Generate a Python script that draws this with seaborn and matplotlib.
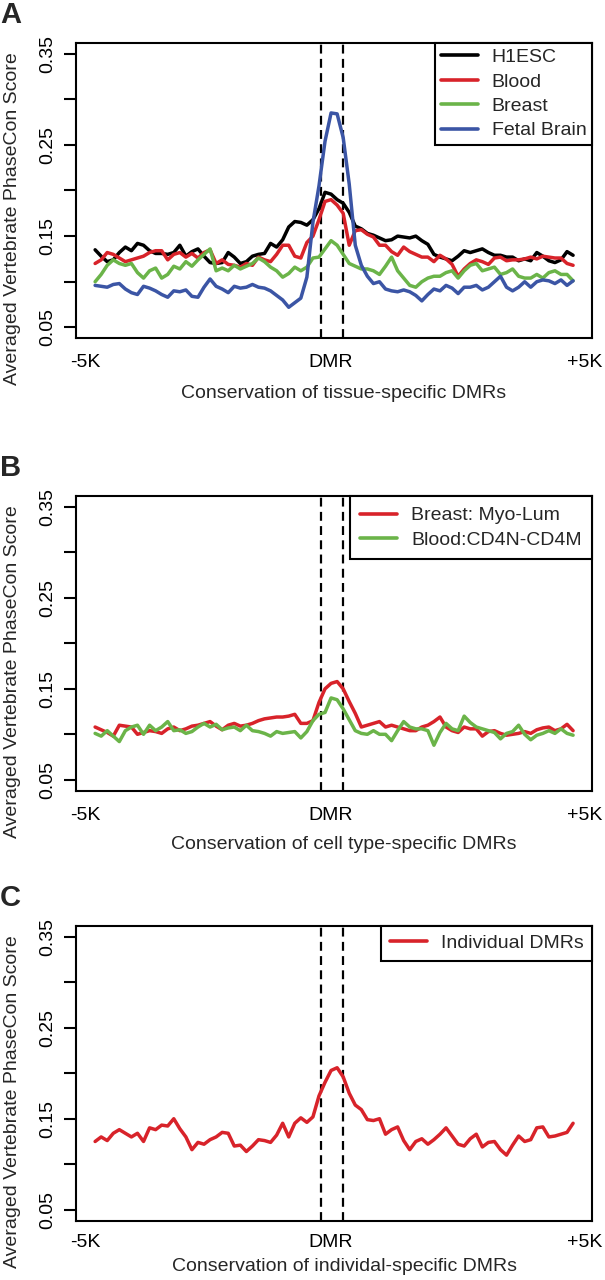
import numpy as np
import pandas as pd
import seaborn as sns
import matplotlib.pyplot as plt
from matplotlib.lines import Line2D

# profile bins from -5K through the DMR to +5K
n_bins = 80
bins = np.arange(n_bins)

# Panel A: tissue-specific DMRs
h1esc = [0.135, 0.128, 0.122, 0.124, 0.132, 0.138, 0.134, 0.142, 0.140, 0.134,
         0.131, 0.131, 0.130, 0.132, 0.140, 0.128, 0.133, 0.136, 0.128, 0.121,
         0.120, 0.121, 0.132, 0.127, 0.120, 0.122, 0.128, 0.130, 0.131, 0.142,
         0.138, 0.146, 0.160, 0.166, 0.165, 0.162, 0.168, 0.180, 0.198, 0.196,
         0.190, 0.186, 0.176, 0.161, 0.158, 0.153, 0.151, 0.148, 0.145, 0.146,
         0.150, 0.149, 0.148, 0.150, 0.145, 0.141, 0.130, 0.127, 0.125, 0.123,
         0.128, 0.134, 0.132, 0.134, 0.136, 0.132, 0.129, 0.129, 0.127, 0.127,
         0.123, 0.125, 0.123, 0.132, 0.128, 0.123, 0.121, 0.124, 0.133, 0.129]
blood = [0.120, 0.124, 0.132, 0.130, 0.126, 0.122, 0.124, 0.126, 0.128, 0.132,
         0.134, 0.134, 0.124, 0.130, 0.132, 0.127, 0.131, 0.126, 0.132, 0.135,
         0.120, 0.124, 0.119, 0.118, 0.116, 0.120, 0.118, 0.127, 0.124, 0.122,
         0.130, 0.140, 0.140, 0.128, 0.126, 0.143, 0.150, 0.168, 0.188, 0.190,
         0.184, 0.175, 0.140, 0.156, 0.157, 0.152, 0.149, 0.140, 0.140, 0.133,
         0.129, 0.138, 0.133, 0.130, 0.127, 0.127, 0.122, 0.129, 0.125, 0.119,
         0.106, 0.114, 0.120, 0.124, 0.122, 0.119, 0.126, 0.127, 0.123, 0.124,
         0.124, 0.125, 0.127, 0.125, 0.128, 0.127, 0.126, 0.126, 0.120, 0.118]
breast = [0.100, 0.108, 0.118, 0.124, 0.120, 0.118, 0.120, 0.110, 0.104, 0.112,
          0.115, 0.104, 0.108, 0.117, 0.114, 0.122, 0.117, 0.124, 0.130, 0.136,
          0.112, 0.115, 0.112, 0.118, 0.114, 0.117, 0.120, 0.126, 0.122, 0.116,
          0.112, 0.105, 0.109, 0.116, 0.112, 0.116, 0.126, 0.127, 0.136, 0.145,
          0.140, 0.130, 0.120, 0.117, 0.114, 0.114, 0.112, 0.108, 0.117, 0.127,
          0.112, 0.104, 0.096, 0.094, 0.100, 0.104, 0.106, 0.106, 0.110, 0.112,
          0.104, 0.112, 0.118, 0.120, 0.112, 0.114, 0.116, 0.108, 0.110, 0.114,
          0.106, 0.104, 0.104, 0.108, 0.104, 0.110, 0.112, 0.108, 0.108, 0.101]
fetal_brain = [0.096, 0.095, 0.094, 0.097, 0.098, 0.092, 0.088, 0.086, 0.095, 0.093,
               0.090, 0.086, 0.083, 0.090, 0.089, 0.091, 0.084, 0.083, 0.094, 0.103,
               0.095, 0.092, 0.088, 0.095, 0.093, 0.094, 0.097, 0.094, 0.093, 0.090,
               0.085, 0.080, 0.072, 0.077, 0.082, 0.105, 0.165, 0.205, 0.254, 0.285,
               0.284, 0.258, 0.207, 0.140, 0.118, 0.106, 0.098, 0.100, 0.092, 0.090,
               0.089, 0.091, 0.089, 0.085, 0.079, 0.086, 0.092, 0.090, 0.096, 0.093,
               0.087, 0.094, 0.094, 0.096, 0.091, 0.094, 0.100, 0.106, 0.094, 0.090,
               0.094, 0.100, 0.094, 0.100, 0.102, 0.101, 0.098, 0.102, 0.096, 0.101]

# Panel B: cell type-specific DMRs
myo_lum = [0.108, 0.105, 0.102, 0.098, 0.110, 0.109, 0.108, 0.100, 0.102, 0.104,
           0.103, 0.101, 0.106, 0.108, 0.104, 0.106, 0.109, 0.110, 0.112, 0.114,
           0.109, 0.105, 0.110, 0.112, 0.109, 0.110, 0.112, 0.115, 0.117, 0.118,
           0.119, 0.119, 0.120, 0.122, 0.112, 0.112, 0.115, 0.135, 0.150, 0.156,
           0.158, 0.150, 0.136, 0.123, 0.108, 0.110, 0.112, 0.114, 0.108, 0.110,
           0.108, 0.106, 0.104, 0.104, 0.108, 0.110, 0.114, 0.119, 0.108, 0.104,
           0.102, 0.108, 0.106, 0.106, 0.098, 0.103, 0.104, 0.101, 0.099, 0.100,
           0.101, 0.103, 0.101, 0.105, 0.107, 0.108, 0.104, 0.106, 0.111, 0.104]
cd4n_cd4m = [0.101, 0.098, 0.104, 0.098, 0.092, 0.104, 0.108, 0.110, 0.100, 0.110,
             0.104, 0.108, 0.114, 0.104, 0.105, 0.101, 0.103, 0.108, 0.112, 0.108,
             0.111, 0.105, 0.107, 0.108, 0.104, 0.110, 0.104, 0.103, 0.101, 0.098,
             0.103, 0.101, 0.102, 0.103, 0.096, 0.103, 0.115, 0.122, 0.124, 0.140,
             0.138, 0.128, 0.116, 0.104, 0.101, 0.100, 0.104, 0.100, 0.100, 0.093,
             0.104, 0.114, 0.108, 0.106, 0.106, 0.104, 0.088, 0.102, 0.112, 0.106,
             0.104, 0.120, 0.113, 0.108, 0.106, 0.104, 0.102, 0.095, 0.101, 0.103,
             0.110, 0.100, 0.094, 0.099, 0.101, 0.104, 0.101, 0.106, 0.101, 0.099]

# Panel C: individual-specific DMRs
individual = [0.125, 0.130, 0.126, 0.134, 0.138, 0.134, 0.130, 0.134, 0.125, 0.140,
              0.138, 0.143, 0.142, 0.150, 0.139, 0.130, 0.116, 0.124, 0.122, 0.127,
              0.130, 0.135, 0.134, 0.120, 0.121, 0.114, 0.120, 0.127, 0.126, 0.124,
              0.132, 0.145, 0.130, 0.145, 0.151, 0.146, 0.152, 0.175, 0.190, 0.203,
              0.206, 0.196, 0.178, 0.165, 0.160, 0.149, 0.148, 0.150, 0.133, 0.138,
              0.141, 0.126, 0.116, 0.125, 0.128, 0.122, 0.127, 0.133, 0.140, 0.131,
              0.122, 0.120, 0.128, 0.133, 0.119, 0.124, 0.125, 0.116, 0.110, 0.121,
              0.131, 0.125, 0.127, 0.140, 0.141, 0.130, 0.131, 0.133, 0.135, 0.145]

x_tick_pos = [-1.6, 38.9, 80.9]
x_tick_labels = ["-5K", "DMR", "+5K"]
dmr_start, dmr_end = 37.4, 40.9
y_ticks = [0.05, 0.10, 0.15, 0.20, 0.25, 0.30, 0.35]
y_tick_labels = ["0.05", "", "0.15", "", "0.25", "", "0.35"]

colors = {"black": "#000000", "red": "#D8232A", "green": "#6BB449", "blue": "#3B55A5"}

panels = [
    {"letter": "A", "xlabel": "Conservation of tissue-specific DMRs",
     "series": [("H1ESC", h1esc, colors["black"]), ("Blood", blood, colors["red"]),
                ("Breast", breast, colors["green"]), ("Fetal Brain", fetal_brain, colors["blue"])],
     "top": 42.7, "bottom": 338.3, "borderpad": 0.3, "tick_pad": 11.5, "xlab_off": 55},
    {"letter": "B", "xlabel": "Conservation of cell type-specific DMRs",
     "series": [("Breast: Myo-Lum", myo_lum, colors["red"]),
                ("Blood:CD4N-CD4M", cd4n_cd4m, colors["green"])],
     "top": 496.0, "bottom": 790.7, "borderpad": 0.55, "tick_pad": 11.5, "xlab_off": 54},
    {"letter": "C", "xlabel": "Conservation of individal-specific DMRs",
     "series": [("Individual DMRs", individual, colors["red"])],
     "top": 925.7, "bottom": 1220.7, "borderpad": 0.45, "tick_pad": 9.5, "xlab_off": 46},
]

sns.set_theme(style="ticks")
plt.rcParams["font.family"] = ["Liberation Sans", "DejaVu Sans"]

W, H = 605, 1280
fig = plt.figure(figsize=(W / 100, H / 100), dpi=100)
left_px, right_px = 76.0, 592.2

for p in panels:
    ax = fig.add_axes([left_px / W, 1 - p["bottom"] / H,
                       (right_px - left_px) / W, (p["bottom"] - p["top"]) / H])
    names = [s[0] for s in p["series"]]
    df = pd.concat([pd.DataFrame({"bin": bins, "score": vals, "series": name})
                    for name, vals, _ in p["series"]], ignore_index=True)
    palette = {name: c for name, _, c in p["series"]}
    sns.lineplot(data=df, x="bin", y="score", hue="series", hue_order=names,
                 palette=palette, lw=2.5, legend=False, ax=ax)

    for xv in (dmr_start, dmr_end):
        ax.axvline(xv, color="black", lw=1.6, ls=(0, (4, 2.4)), zorder=1)

    ax.set_xlim(-0.04 * (n_bins - 1), 1.04 * (n_bins - 1))
    ax.set_ylim(0.038, 0.362)
    ax.set_xticks(x_tick_pos)
    ax.set_xticklabels(x_tick_labels, fontsize=14)
    ax.set_yticks(y_ticks)
    ax.set_yticklabels(y_tick_labels, fontsize=14, rotation=90, va="center")
    ax.tick_params(axis="x", length=0, pad=p["tick_pad"], colors="black")
    ax.tick_params(axis="y", length=8.6, width=1.5, pad=5.5, colors="black")
    ax.set_xlabel("")
    ax.set_ylabel("")
    for sp in ax.spines.values():
        sp.set_visible(True)
        sp.set_color("black")
        sp.set_linewidth(1.5)

    handles = [Line2D([], [], color=c, lw=2.6) for _, _, c in p["series"]]
    leg = ax.legend(handles, names, loc="upper right", borderaxespad=0, frameon=True,
                    fancybox=False, edgecolor="black", framealpha=1, fontsize=14,
                    handlelength=1.9, handletextpad=0.7, labelspacing=0.35,
                    borderpad=p["borderpad"])
    leg.get_frame().set_linewidth(1.5)

    # panel letter, y-axis label and x-axis label placed like the original figure
    fig.text(0.0, 1 - (p["top"] - 19.7) / H, p["letter"], fontsize=21,
             fontweight="bold", ha="left", va="baseline")
    fig.text(12.5 / W, 1 - (p["top"] + 175.5) / H, "Averaged Vertebrate PhaseCon Score",
             fontsize=14, rotation=90, ha="center", va="center")
    fig.text(344 / W, 1 - (p["bottom"] + p["xlab_off"]) / H, p["xlabel"], fontsize=14,
             ha="center", va="center")

fig.savefig("out.png", dpi=100)
